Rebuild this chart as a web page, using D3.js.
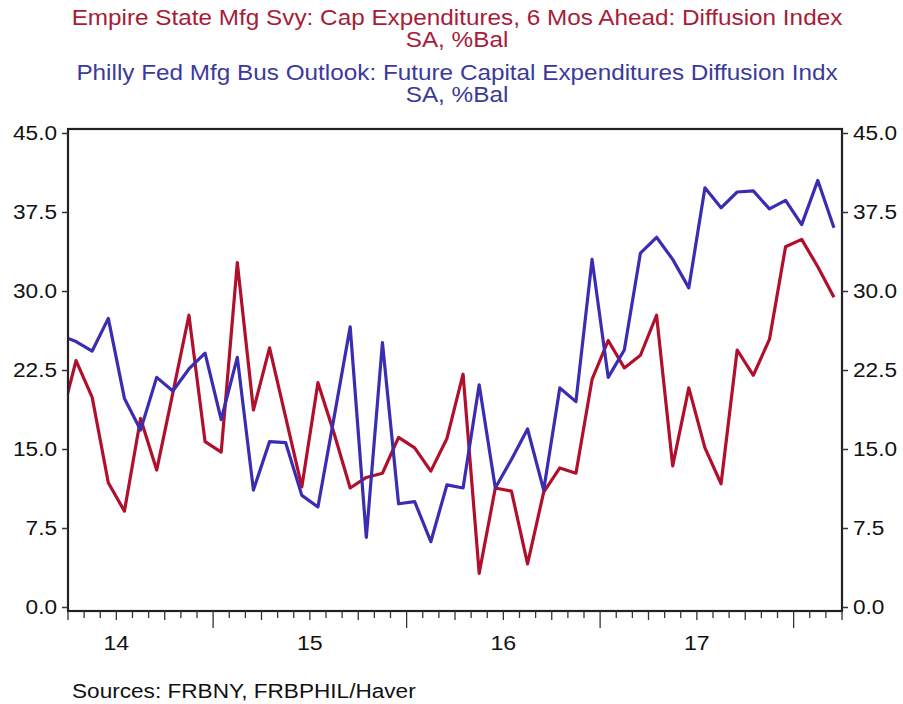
<!DOCTYPE html>
<html><head><meta charset="utf-8">
<script src="https://cdn.jsdelivr.net/npm/d3@7"></script>
<style>
html,body{margin:0;padding:0;background:#fff;}
svg{display:block;}
text{font-family:"Liberation Sans",Arial,sans-serif;}
</style></head>
<body>
<svg id="c" width="903" height="704"></svg>
<script>
// ---- data (monthly, Mar 2014 .. Mar 2018) ----
const startYear = 2014, startMonth = 2; // March 2014 (0-based month)
const empire = [17.4,23.4,19.9,11.8,9.1,17.9,13.0,20.3,27.7,15.7,
  14.7,32.7,18.7,24.6,18.0,11.4,21.3,16.5,11.3,12.3,12.7,16.1,
  15.1,12.9,16.0,22.1,3.2,11.3,11.0,4.1,10.9,13.2,12.7,21.6,
  25.3,22.7,23.9,27.7,13.4,20.8,15.1,11.7,24.4,22.0,25.4,34.2,
  34.9,32.3,29.4];
const philly = [25.8,25.2,24.3,27.4,19.8,16.8,21.8,20.5,22.6,24.1,
  17.8,23.7,11.1,15.7,15.6,10.6,9.5,18.0,26.6,6.6,25.1,9.8,
  10.0,6.2,11.6,11.3,21.1,11.3,14.0,16.9,11.1,20.8,19.5,33.0,
  21.8,24.4,33.6,35.1,33.0,30.3,39.8,37.9,39.4,39.5,37.8,38.6,
  36.3,40.5,36.0];
const yTicks = [0,7.5,15,22.5,30,37.5,45];
const yearLabels = ["14","15","16","17"];
const titles = [
  {t:"Empire State Mfg Svy: Cap Expenditures, 6 Mos Ahead: Diffusion Index", c:"#a81c38"},
  {t:"SA, %Bal", c:"#a81c38"},
  {t:"Philly Fed Mfg Bus Outlook: Future Capital Expenditures Diffusion Indx", c:"#3b3a9c"},
  {t:"SA, %Bal", c:"#3b3a9c"}
];
const source = "Sources:  FRBNY, FRBPHIL/Haver";

// ---- layout ----
const L = 68, R = 842, T = 129, B = 611;
const SX = 1.13; // horizontal stretch of the reference lettering
const svg = d3.select("#c");
const x = d3.scaleLinear().domain([3, 51]).range([L, R]); // months since Jan 2014
const y = d3.scaleLinear().domain([0, 45]).range([607, 133]);

function stretch(sel){
  sel.each(function(){
    const w = this.getComputedTextLength();
    d3.select(this).attr("textLength", w*SX).attr("lengthAdjust","spacingAndGlyphs");
  });
}

// titles
const ty = [25, 47, 80, 102];
titles.forEach((d,i)=>{
  svg.append("text").attr("x", 457).attr("y", ty[i]).attr("text-anchor","middle")
    .attr("fill", d.c).style("font-size","21.5px").text(d.t).call(stretch);
});

// clip
svg.append("clipPath").attr("id","clip").append("rect")
  .attr("x", L).attr("y", T).attr("width", R-L).attr("height", B-T);

const mIdx = i => startMonth + i + 0.5;
const line = d3.line().x((d,i)=>x(mIdx(i))).y(d=>y(d));

const g = svg.append("g").attr("clip-path","url(#clip)");
g.append("path").datum(empire).attr("d", line).attr("fill","none")
  .attr("stroke","#b0102c").attr("stroke-width",3.2).attr("stroke-linejoin","round");
g.append("path").datum(philly).attr("d", line).attr("fill","none")
  .attr("stroke","#3a2db2").attr("stroke-width",3.2).attr("stroke-linejoin","round");

// frame
svg.append("rect").attr("x",L).attr("y",T).attr("width",R-L).attr("height",B-T)
  .attr("fill","none").attr("stroke","#222").attr("stroke-width",2.2);

// y axes
const yl = d3.axisLeft(y).tickValues(yTicks).tickFormat(d3.format(".1f")).tickSize(6).tickPadding(5);
const yr = d3.axisRight(y).tickValues(yTicks).tickFormat(d3.format(".1f")).tickSize(6).tickPadding(5);
const gl = svg.append("g").attr("transform",`translate(${L},0)`).call(yl);
const gr = svg.append("g").attr("transform",`translate(${R},0)`).call(yr);
[gl,gr].forEach(a=>{
  a.select(".domain").remove();
  a.selectAll("line").attr("stroke","#333").attr("stroke-width",1.5);
  a.selectAll("text").style("font-size","20px").attr("fill","#111")
    .style("font-family",'"Liberation Sans",Arial,sans-serif').call(stretch);
});

// x axis ticks
const months = d3.range(3, 52);
const gx = svg.append("g");
gx.selectAll("line").data(months).join("line")
  .attr("x1", d=>x(d)).attr("x2", d=>x(d)).attr("y1", B)
  .attr("y2", d=> d%12===0 ? B+17 : (d%3===0 ? B+9 : B+7))
  .attr("stroke","#333").attr("stroke-width",1.3);
gx.selectAll("text").data(yearLabels).join("text")
  .attr("x",(d,i)=>x(6+12*i)).attr("y", 650).attr("text-anchor","middle")
  .attr("fill","#111").style("font-size","20.5px").text(d=>d).call(stretch);

// source
svg.append("text").attr("x",72).attr("y",698).attr("fill","#111")
  .style("font-size","20px").text(source).call(stretch);
</script>
</body></html>
